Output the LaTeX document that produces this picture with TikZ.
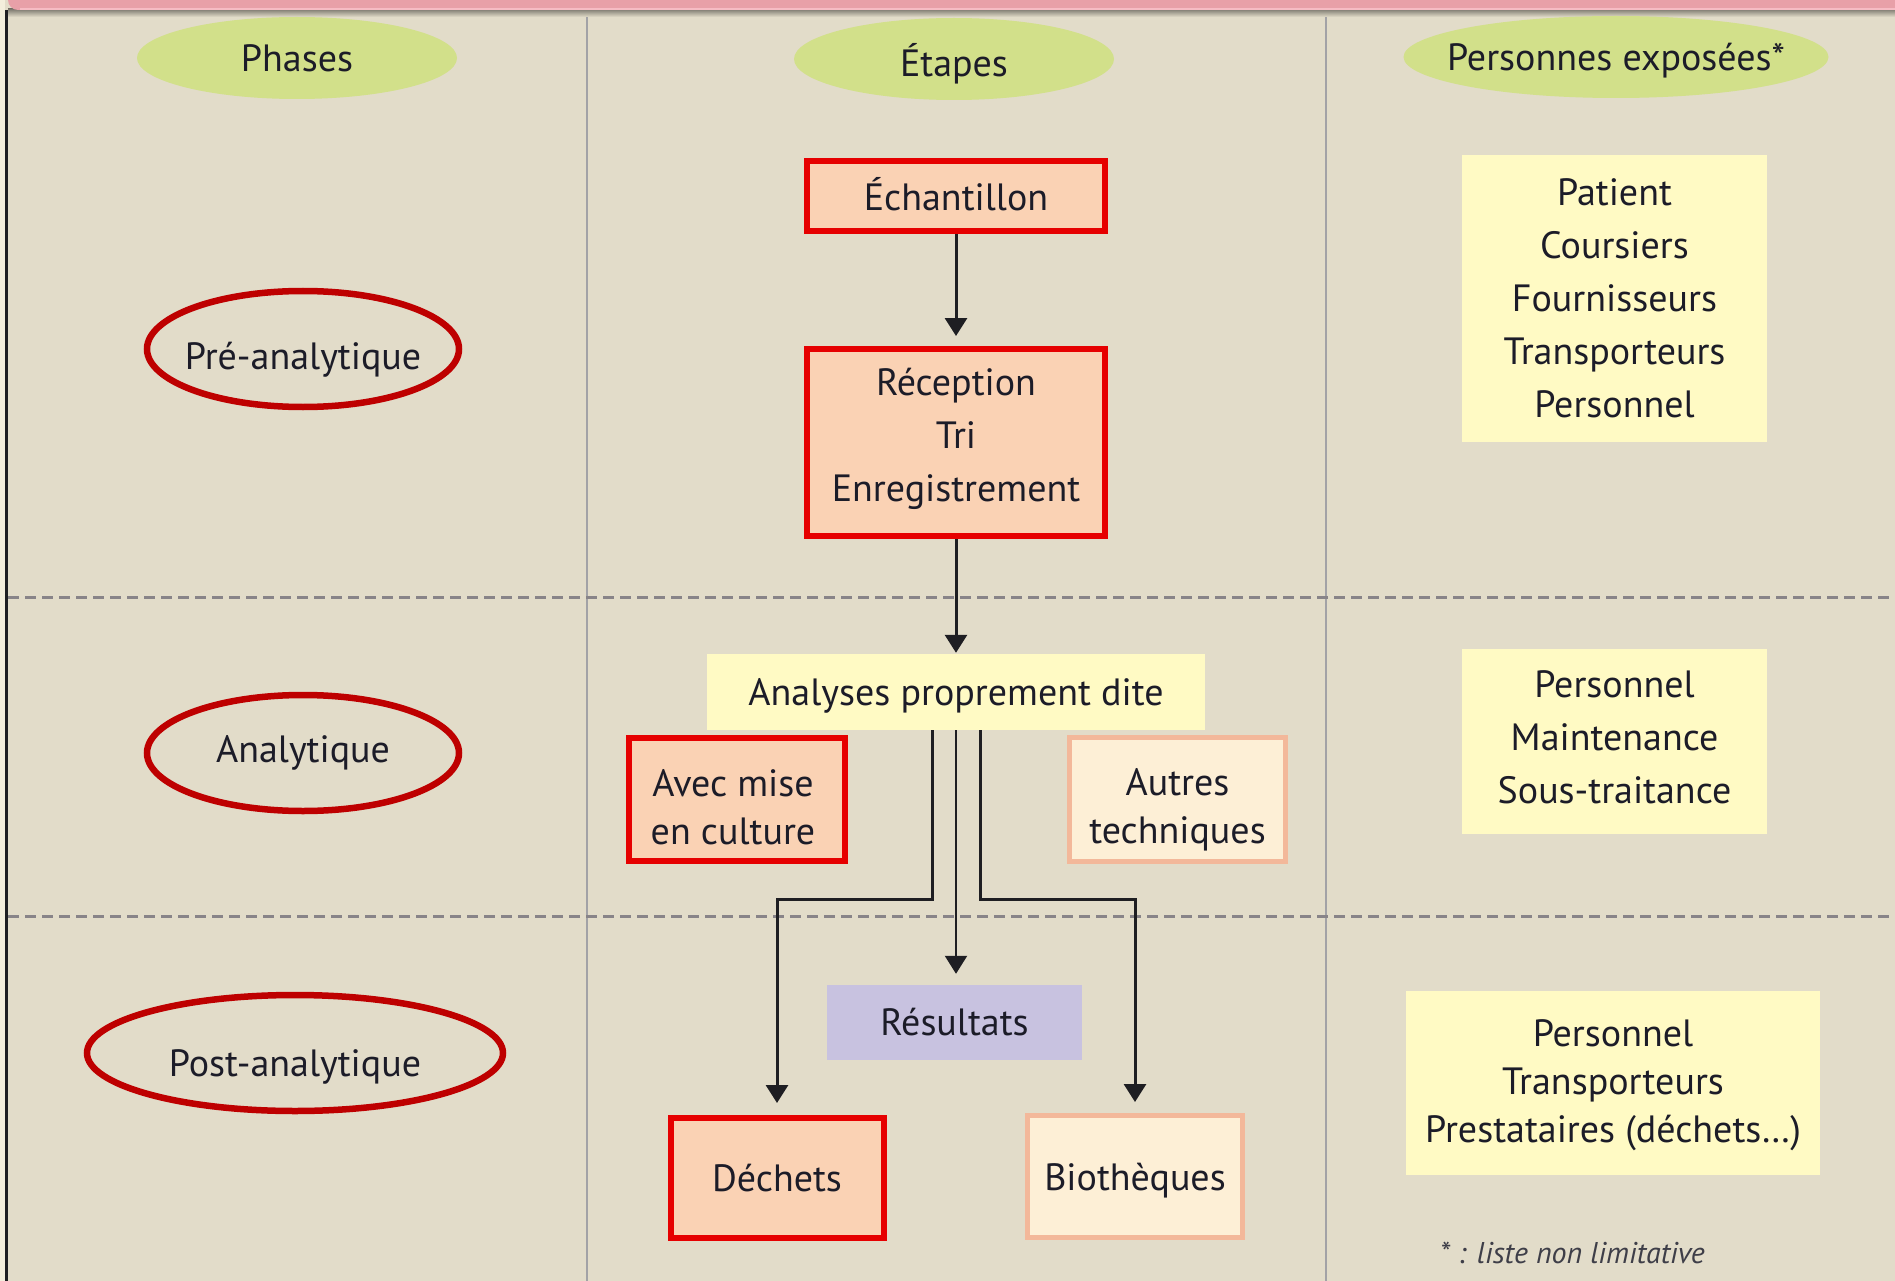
\documentclass[tikz,border=0pt]{standalone}
\usepackage{fontspec}
\setmainfont{PT Sans}
\usetikzlibrary{arrows.meta,shapes.geometric,calc}
\definecolor{bg}{HTML}{E2DCC9}
\definecolor{hgreen}{HTML}{D2E08A}
\definecolor{ellred}{HTML}{BE0000}
\definecolor{boxred}{HTML}{E60000}
\definecolor{salmon}{HTML}{FAD2B4}
\definecolor{paleborder}{HTML}{F3B89A}
\definecolor{cream}{HTML}{FDEFD6}
\definecolor{yel}{HTML}{FFFAC4}
\definecolor{lav}{HTML}{C8C2E0}
\definecolor{txt}{HTML}{1C1C28}
\definecolor{linecol}{HTML}{1E1E22}
\definecolor{divgrey}{HTML}{A2A2A6}
\definecolor{dashgrey}{HTML}{888488}
\definecolor{barpink}{HTML}{E8A0A8}
\definecolor{barlight}{HTML}{F6BCC4}
\definecolor{leftcream}{HTML}{F3EEDC}
\begin{document}
\begin{tikzpicture}[x=1pt,y=-1pt,
  every node/.style={text=txt},
  txtfont/.style={font=\fontsize{38}{53}\selectfont},
  tightfont/.style={font=\fontsize{38}{48}\selectfont},
  label text/.style={inner sep=0pt, align=center, txtfont},
  hdr/.style={ellipse, fill=hgreen, inner sep=0pt, minimum height=82pt, txtfont},
  phase/.style={ellipse, draw=ellred, line width=6.5pt, inner sep=0pt, minimum height=116pt, txtfont},
  redbox/.style={draw=boxred, line width=6pt, fill=salmon, inner sep=0pt, align=center, txtfont},
  palebox/.style={draw=paleborder, line width=5pt, fill=cream, inner sep=0pt, align=center, txtfont},
  yelbox/.style={fill=yel, inner sep=0pt, align=center, txtfont},
  lavbox/.style={fill=lav, inner sep=0pt, align=center, txtfont},
  conn/.style={draw=linecol, line width=3pt},
  tipend/.style={-{Triangle[width=22pt,length=18pt]}},
  divider/.style={draw=divgrey, line width=2.5pt},
  rowsep/.style={draw=dashgrey, line width=3pt, dash pattern=on 11pt off 6pt}
]
\useasboundingbox (0,0) rectangle (1895,1281);
% background
\fill[bg] (0,0) rectangle (1895,1281);
\fill[leftcream] (0,0) rectangle (5,1281);
% column dividers and row separators
\draw[divider] (587,8) -- (587,1281);
\draw[divider] (1326,8) -- (1326,1281);
\draw[rowsep] (8,597) -- (1895,597);
\draw[rowsep] (8,916) -- (1895,916);
% top bar with shadow
\shade[top color=black!45!bg, bottom color=bg] (8,9) rectangle (1895,17);
\fill[barpink, rounded corners=10pt] (8,-20) rectangle (1905,10);
\fill[barlight] (20,8) rectangle (1895,10);
% left black line
\fill[linecol] (5,10) rectangle (8,1281);

% headers
\node[hdr, minimum width=320pt] (hph) at (297,58) {Phases};
\node[hdr, minimum width=320pt] (het) at (954,59) {};
\node[label text] (hett) at ($(het)+(0,5)$) {Étapes};
\node[hdr, minimum width=425pt] (hpe) at (1616,57) {};
\node[label text] (hpet) at ($(hpe)+(0,4)$) {Personnes exposées*};

% phases
\node[phase, minimum width=312pt] (pre) at (303,349) {};
\node[label text] (pret) at ($(pre)+(0,11)$) {Pré-analytique};
\node[phase, minimum width=312pt] (anl) at (303,753) {Analytique};
\node[phase, minimum width=416pt] (post) at (295,1053) {};
\node[label text] (postt) at ($(post)+(0,14)$) {Post-analytique};

% etapes
\node[redbox, minimum width=298pt, minimum height=70pt] (ech) at (956,196) {};
\node[label text] (echt) at ($(ech)+(0,-2)$) {Échantillon};
\node[redbox, minimum width=298pt, minimum height=187pt] (rec) at (956,442.5) {};
\node[label text] (rect) at ($(rec)+(0,-4)$) {Réception\\Tri\\Enregistrement};
\node[yelbox, minimum width=498pt, minimum height=76pt] (ana) at (956,692) {};
\node[label text] (anat) at ($(ana)+(0,4)$) {Analyses proprement dite};
\node[redbox, minimum width=216pt, minimum height=123pt] (avec) at (737,799.5) {};
\node[label text, tightfont] (avect) at ($(avec)+(-4,8)$) {Avec mise\\en culture};
\node[palebox, minimum width=216pt, minimum height=124pt] (autres) at (1177.5,799.5) {};
\node[label text, tightfont] (autrest) at ($(autres)+(0,10)$) {Autres\\techniques};
\node[lavbox, minimum width=255pt, minimum height=75pt] (res) at (954.5,1022.5) {Résultats};
\node[redbox, minimum width=213pt, minimum height=120pt] (dech) at (777,1178) {Déchets};
\node[palebox, minimum width=215pt, minimum height=122pt] (bio) at (1135,1176.5) {};
\node[label text] (biot) at ($(bio)+(0,4)$) {Biothèques};

% connectors
\draw[conn, tipend, shorten >=10pt] (ech) -- (rec);
\draw[conn, tipend, shorten >=1pt] (rec) -- (ana);
\draw[conn, tipend, shorten >=12pt] ($(ana.south)+(-24,0)$) -- ++(0,169) -| (dech.north);
\draw[conn, line width=2.2pt, tipend, shorten >=11pt] (ana.south) -- (ana.south |- res.north);
\draw[conn, tipend, shorten >=11pt] ($(ana.south)+(24,0)$) -- ++(0,169) -| (bio.north);

% personnes exposees
\node[yelbox, minimum width=305pt, minimum height=287pt] (p1) at (1614.5,298.5) {Patient\\Coursiers\\Fournisseurs\\Transporteurs\\Personnel};
\node[yelbox, minimum width=305pt, minimum height=185pt] (p2) at (1614.5,741.5) {};
\node[label text] (p2t) at ($(p2)+(0,-4)$) {Personnel\\Maintenance\\Sous-traitance};
\node[yelbox, minimum width=414pt, minimum height=184pt] (p3) at (1613,1083) {};
\node[label text, tightfont] (p3t) at ($(p3)+(0,2)$) {Personnel\\Transporteurs\\Prestataires (déchets…)};

% footnote
\node[anchor=west, inner sep=0pt, font=\fontsize{30}{32}\selectfont\itshape, text=txt!85] (fn) at (1440,1253) {* : liste non limitative};
\end{tikzpicture}
\end{document}
